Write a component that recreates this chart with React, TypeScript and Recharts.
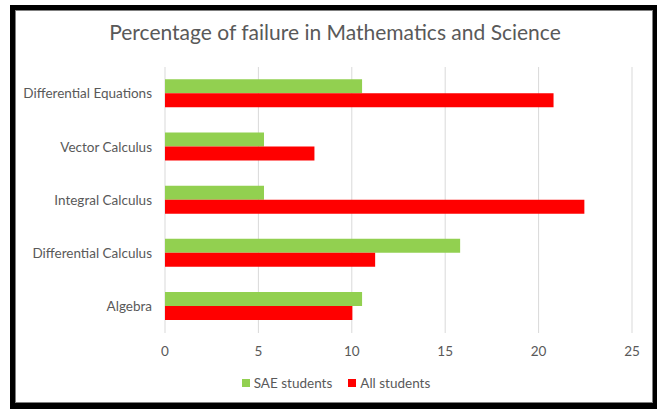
import { BarChart, Bar, XAxis, YAxis, CartesianGrid, Legend } from 'recharts';

const subjects = [
  'Differential Equations',
  'Vector Calculus',
  'Integral Calculus',
  'Differential Calculus',
  'Algebra',
];
const saeStudents = [10.55, 5.3, 5.3, 15.8, 10.55];
const allStudents = [20.8, 8.0, 22.45, 11.25, 10.03];
const xTicks = [0, 5, 10, 15, 20, 25];

const data = subjects.map((name, i) => ({
  name,
  'SAE students': saeStudents[i],
  'All students': allStudents[i],
}));

const FONT = 'Lato, "Open Sans", sans-serif';
const TEXT = '#595959';

function ChartLegend({ payload }: any) {
  return (
    <div
      style={{
        display: 'flex', justifyContent: 'center', gap: 16, paddingTop: 12, paddingLeft: 40,
        fontFamily: FONT, fontSize: 13.5, color: TEXT, lineHeight: '16px',
      }}
    >
      {payload?.map((entry: any) => (
        <div key={entry.value} style={{ display: 'flex', alignItems: 'center', gap: 4 }}>
          <span style={{ width: 8, height: 8, background: entry.color, display: 'inline-block' }} />
          <span>{entry.value}</span>
        </div>
      ))}
    </div>
  );
}

export default function App() {
  return (
    <div style={{ position: 'absolute', left: 0, top: 0, width: 657, height: 409, background: '#fff' }}>
      <div
        style={{
          position: 'absolute', left: 0, top: 19, width: 670, textAlign: 'center',
          fontFamily: FONT, fontSize: 21, color: TEXT,
        }}
      >
        Percentage of failure in Mathematics and Science
      </div>
      <BarChart
        layout="vertical"
        width={657}
        height={409}
        data={data}
        margin={{ top: 67, right: 25, left: 0, bottom: 20 }}
        barCategoryGap="23%"
        barGap={0}
      >
        <CartesianGrid horizontal={false} stroke="#D9D9D9" strokeWidth={1} />
        <XAxis
          type="number"
          domain={[0, 25]}
          ticks={xTicks}
          axisLine={false}
          tickLine={false}
          tickSize={0}
          tickMargin={13}
          height={30}
          tick={{ fontSize: 13.5, fill: TEXT, fontFamily: FONT }}
        />
        <YAxis
          type="category"
          dataKey="name"
          width={165}
          axisLine={false}
          tickLine={false}
          tickSize={0}
          tickMargin={13}
          tick={{ fontSize: 13.5, fill: TEXT, fontFamily: FONT }}
        />
        <Legend verticalAlign="bottom" height={26} itemSorter={null} content={<ChartLegend />} />
        <Bar dataKey="SAE students" fill="#92D050" isAnimationActive={false} />
        <Bar dataKey="All students" fill="#FF0000" isAnimationActive={false} />
      </BarChart>
      <div
        style={{
          position: 'absolute', left: 10, top: 5, width: 647, height: 404, boxSizing: 'border-box',
          borderStyle: 'solid', borderColor: '#000', borderWidth: '5px 4px 6px 5px', pointerEvents: 'none',
          boxShadow: 'inset 0 0 0 1px #7f7f7f',
        }}
      />
    </div>
  );
}
